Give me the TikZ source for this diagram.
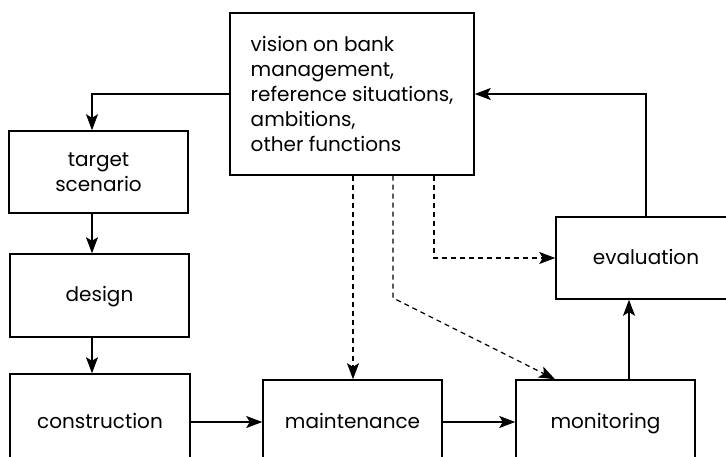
\documentclass[tikz,border=0pt]{standalone}
\usepackage{fontspec}
\setmainfont{Poppins}
\usetikzlibrary{arrows.meta, positioning, calc}
\tikzset{
  every picture/.style={font=\fontsize{20}{25}\selectfont, line width=1.2pt},
  box/.style={draw, line width=1.5pt, align=center, inner sep=0pt, minimum width=#1, minimum height=83pt},
  box/.default=180pt,
  word/.style={text height=1.35em, text depth=0.1em},
  arrow/.style={-{Stealth[length=16pt, width=12pt, inset=3.5pt]}, line width=1.2pt},
  dasharrow/.style={arrow, dash pattern=on 5pt off 4pt},
}

\begin{document}
\begin{tikzpicture}[x=1pt, y=-1pt]
  \clip (0,0) rectangle (726,457);
  % boxes
  \node[box=244pt, minimum height=162pt, align=left] (vision) at (352,94)
    {vision on bank\\management,\\reference situations,\\ambitions,\\other functions};
  \node[box=179pt, minimum height=82pt] (target) at (98.5,172) {target\\scenario};
  \node[box=179pt, word] (design) at (99.5,295.5) {design};
  \node[box=180pt, minimum height=96pt, word] (construction) at (100,422) {construction};
  \node[box=179pt, minimum height=84pt, word] (maintenance) at (352.5,422) {maintenance};
  \node[box=179pt, minimum height=84pt, word] (monitoring) at (605.5,422) {monitoring};
  \node[box=180pt, minimum height=82pt, word] (evaluation) at (646,258) {evaluation};
  % helper columns
  \coordinate (spine) at (92,0);
  \coordinate (up) at (629,0);
  \coordinate (d1) at (353,0);
  \coordinate (d2) at (393,0);
  \coordinate (d3) at (434,0);
  \coordinate (bend) at (393,298);
  \coordinate (hit) at (555,0);
  % solid flow
  \draw[arrow] (vision.west) -| (target.north -| spine);
  \draw[arrow] (target.south -| spine) -- (design.north -| spine);
  \draw[arrow] (design.south -| spine) -- (construction.north -| spine);
  \draw[arrow] (construction.east) -- (maintenance.west);
  \draw[arrow] (maintenance.east) -- (monitoring.west);
  \draw[arrow] (monitoring.north -| up) -- (evaluation.south -| up);
  \draw[arrow] (evaluation.north) |- (vision.east);
  % dashed influence
  \draw[dasharrow] (vision.south -| d1) -- (maintenance.north -| d1);
  \draw[dasharrow] (vision.south -| d2) -- (bend) -- (monitoring.north -| hit);
  \draw[dasharrow] (vision.south -| d3) |- (evaluation.west);
\end{tikzpicture}
\end{document}
